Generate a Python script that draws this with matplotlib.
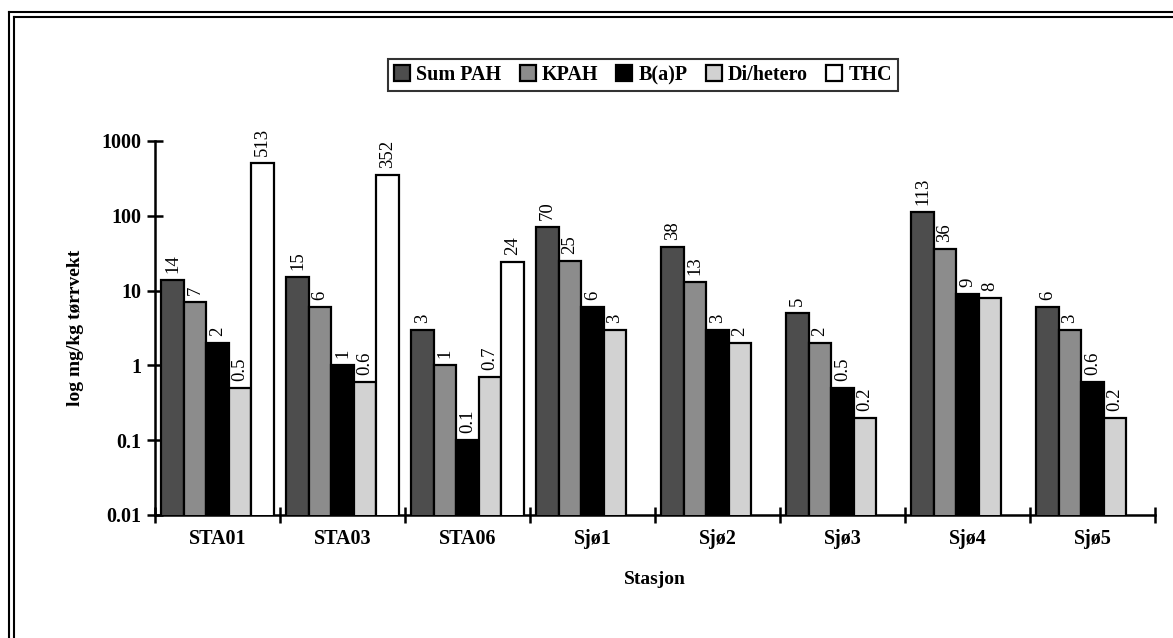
import numpy as np
import matplotlib.pyplot as plt
from matplotlib.lines import Line2D

plt.rcParams['font.family'] = ['Liberation Serif', 'DejaVu Serif']

# data
stasjoner = ['STA01', 'STA03', 'STA06', 'Sjø1', 'Sjø2', 'Sjø3', 'Sjø4', 'Sjø5']
serier = ['Sum PAH', 'KPAH', 'B(a)P', 'Di/hetero', 'THC']
sum_pah = [14, 15, 3, 70, 38, 5, 113, 6]
kpah = [7, 6, 1, 25, 13, 2, 36, 3]
bap = [2, 1, 0.1, 6, 3, 0.5, 9, 0.6]
di_hetero = [0.5, 0.6, 0.7, 3, 2, 0.2, 8, 0.2]
thc = [513, 352, 24, None, None, None, None, None]

verdier = [sum_pah, kpah, bap, di_hetero, thc]
farger = ['#4d4d4d', '#8c8c8c', '#000000', '#d2d2d2', '#ffffff']

fig = plt.figure(figsize=(11.73, 6.38), dpi=100)
ax = fig.add_axes([155/1173, 123/638, 1000/1173, 374/638])

x = np.arange(len(stasjoner))
bw = 0.18
for k in range(len(serier)):
    xs = [x[i] + (k - 2) * bw for i in range(len(x)) if verdier[k][i] is not None]
    ys = [v for v in verdier[k] if v is not None]
    bars = ax.bar(xs, ys, width=bw, color=farger[k], edgecolor='black',
                  linewidth=1.6, label=serier[k], zorder=3)
    for b, v in zip(bars, ys):
        ax.annotate('%g' % v, (b.get_x() + b.get_width() / 2, v),
                    xytext=(0, 5), textcoords='offset points',
                    rotation=90, ha='center', va='bottom', fontsize=13.5)

ax.set_yscale('log')
ax.set_ylim(0.01, 1000)
ax.set_xlim(-0.5, len(stasjoner) - 0.5)
ax.set_yticks([0.01, 0.1, 1, 10, 100, 1000])
ax.set_yticklabels(['0.01', '0.1', '1', '10', '100', '1000'], fontsize=14.5, fontweight='bold')
ax.yaxis.set_minor_locator(plt.NullLocator())

ax.set_xticks(np.arange(len(stasjoner) + 1) - 0.5)
ax.set_xticklabels([])
ax.set_xticks(x, minor=True)
ax.set_xticklabels(stasjoner, minor=True, fontsize=14.5, fontweight='bold')
ax.tick_params(axis='x', which='minor', length=0, pad=10)
ax.tick_params(axis='both', which='major', direction='inout', length=12, width=1.8)
ax.tick_params(axis='y', pad=4)

for s in ['top', 'right']:
    ax.spines[s].set_visible(False)
for s in ['left', 'bottom']:
    ax.spines[s].set_linewidth(1.8)

ax.set_xlabel('Stasjon', fontsize=14, fontweight='bold', labelpad=16)
ax.set_ylabel('log mg/kg tørrvekt', fontsize=14, fontweight='bold', labelpad=12)

leg = fig.legend(loc='center', bbox_to_anchor=(643/1173, 1 - 75/638), ncol=5,
                 prop={'weight': 'bold', 'size': 14.5}, frameon=True, fancybox=False,
                 handlelength=0.8, handleheight=0.8, handletextpad=0.3,
                 columnspacing=0.9, borderpad=0.3)
leg.get_frame().set_edgecolor('black')
leg.get_frame().set_linewidth(1.5)

# double border at top and left
for px in [9, 14]:
    fig.add_artist(Line2D([px/1173, px/1173], [0, 1 - (12 if px == 9 else 17)/638],
                          color='black', lw=1.5, transform=fig.transFigure))
for py in [12, 17]:
    fig.add_artist(Line2D([(9 if py == 12 else 14)/1173, 1], [1 - py/638, 1 - py/638],
                          color='black', lw=1.5, transform=fig.transFigure))

fig.savefig('out.png', dpi=100)
